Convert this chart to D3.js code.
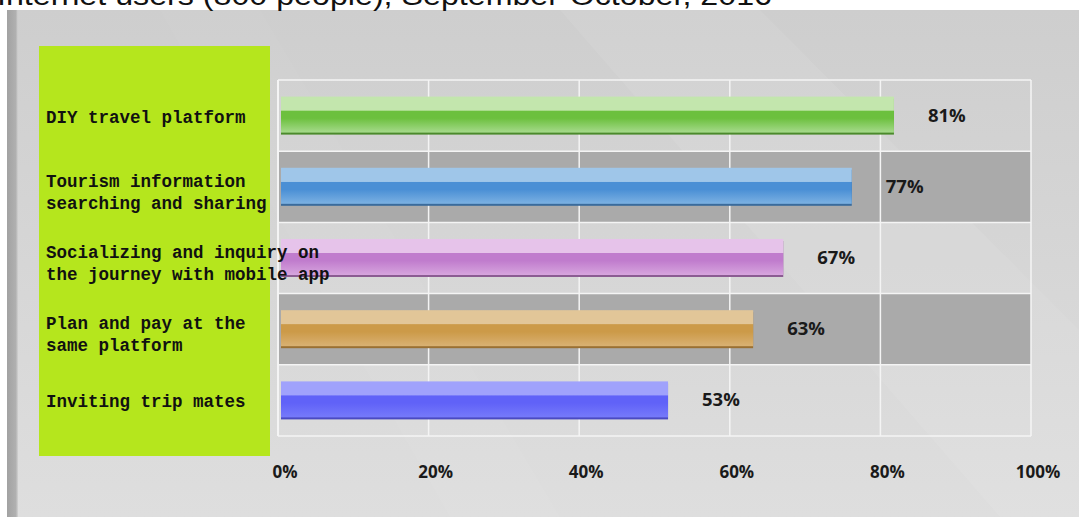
<!DOCTYPE html>
<html>
<head>
<meta charset="utf-8">
<script src="https://cdn.jsdelivr.net/npm/d3@7"></script>
<style>
    body { margin: 0; background: #fff; }
    svg { display: block; }
</style>
</head>
<body>
<svg id="chart" width="1079" height="517"></svg>
<script>
// 数据
let titleText = 'Internet users (800 people), September-October, 2016';
let categories = ['DIY travel platform', 'Tourism information searching and sharing',
    'Socializing and inquiry on the journey with mobile app', 'Plan and pay at the same platform',
    'Inviting trip mates'];
let labelLines = [
    ['DIY travel platform'],
    ['Tourism information', 'searching and sharing'],
    ['Socializing and inquiry on', 'the journey with mobile app'],
    ['Plan and pay at the', 'same platform'],
    ['Inviting trip mates']
];
// 标签上的数值
let values = [81, 77, 67, 63, 53];
// 图上 柱子 实际画出来的长度
let barValues = [81.4, 75.8, 66.7, 62.7, 51.4];
let ticks = [0, 20, 40, 60, 80, 100];

// 颜色: 上半亮, 中间深, 底部 边线
let barColors = [
    {top: '#c3e6ad', mid: '#6cc03e', bot: '#a6da8c', edge: '#4b8a2c'},
    {top: '#9fc6e9', mid: '#4a8fd5', bot: '#7cb1e2', edge: '#3a6b9c'},
    {top: '#e6c3ea', mid: '#c07ccd', bot: '#d7a5de', edge: '#8b5c92'},
    {top: '#e2c698', mid: '#cc9a48', bot: '#d9b173', edge: '#9a7032'},
    {top: '#a0a2fc', mid: '#6062f8', bot: '#767afa', edge: '#4a4ac2'}
];

let svg = d3.select('#chart');
let defs = svg.append('defs');

// 背景
let bgGrad = defs.append('linearGradient').attr('id', 'bg')
    .attr('x1', 0).attr('y1', 0).attr('x2', 0).attr('y2', 1);
bgGrad.append('stop').attr('offset', 0).attr('stop-color', '#cecece');
bgGrad.append('stop').attr('offset', 1).attr('stop-color', '#dedede');

let edgeGrad = defs.append('linearGradient').attr('id', 'edge')
    .attr('x1', 0).attr('y1', 0).attr('x2', 1).attr('y2', 0);
edgeGrad.append('stop').attr('offset', 0).attr('stop-color', '#a2a2a2');
edgeGrad.append('stop').attr('offset', 0.8).attr('stop-color', '#b0b0b0');
edgeGrad.append('stop').attr('offset', 1).attr('stop-color', '#d2d2d2');

svg.append('rect')
    .attr('x', 7).attr('y', 10)
    .attr('width', 1072).attr('height', 507)
    .attr('fill', 'url(#bg)');

// 背景 淡淡的斜条
svg.append('path')
    .attr('d', 'M 560 10 L 760 10 L 1079 330 L 1079 517 L 1000 517 Z')
    .attr('fill', '#ffffff').attr('opacity', 0.07);
svg.append('path')
    .attr('d', 'M 160 10 L 260 10 L 560 517 L 450 517 Z')
    .attr('fill', '#ffffff').attr('opacity', 0.04);

svg.append('rect')
    .attr('x', 7).attr('y', 10)
    .attr('width', 11).attr('height', 507)
    .attr('fill', 'url(#edge)');

// 标题 (上面被截掉, 和原图一样)
svg.append('text')
    .attr('x', -3).attr('y', 5)
    .attr('textLength', 775)
    .attr('lengthAdjust', 'spacingAndGlyphs')
    .style('font-family', 'Liberation Sans, Arial, sans-serif')
    .style('font-size', '27px')
    .attr('fill', '#111')
    .text(titleText);

// 比例尺
let x = d3.scaleLinear().domain([0, 100]).range([278, 1031]);
let y = d3.scaleBand().domain(categories).range([80, 436]).padding(0);

// 行背景
svg.append('g').selectAll('rect')
    .data(categories)
    .enter()
    .append('rect')
    .attr('x', x(0))
    .attr('y', d => y(d))
    .attr('width', x(100) - x(0))
    .attr('height', y.bandwidth())
    .attr('fill', (d, i) => i % 2 === 1 ? '#aaaaaa' : 'none');

// 网格线
let grid = svg.append('g');
grid.selectAll('line.v')
    .data(ticks)
    .enter()
    .append('line')
    .attr('x1', d => x(d)).attr('x2', d => x(d))
    .attr('y1', 80).attr('y2', 436)
    .attr('stroke', '#f4f4f4')
    .attr('stroke-width', d => d === 0 ? 2 : 1.5);
grid.selectAll('line.h')
    .data(categories.concat(['__end']))
    .enter()
    .append('line')
    .attr('x1', x(0)).attr('x2', x(100))
    .attr('y1', (d, i) => 80 + i * y.step())
    .attr('y2', (d, i) => 80 + i * y.step())
    .attr('stroke', '#f4f4f4')
    .attr('stroke-width', 1.5);

// 柱子 渐变
barColors.forEach(function (c, i) {
    let g = defs.append('linearGradient').attr('id', 'bar' + i)
        .attr('x1', 0).attr('y1', 0).attr('x2', 0).attr('y2', 1);
    g.append('stop').attr('offset', 0).attr('stop-color', c.top);
    g.append('stop').attr('offset', 0.38).attr('stop-color', c.top);
    g.append('stop').attr('offset', 0.4).attr('stop-color', c.mid);
    g.append('stop').attr('offset', 0.6).attr('stop-color', c.mid);
    g.append('stop').attr('offset', 1).attr('stop-color', c.bot);
});

let barH = 36;
let bars = svg.append('g');
bars.selectAll('rect.shadow')
    .data(barValues)
    .enter()
    .append('rect')
    .attr('x', x(0) + 3)
    .attr('y', (d, i) => y(categories[i]) + y.bandwidth() / 2 - barH / 2 + 1)
    .attr('width', d => x(d) - x(0))
    .attr('height', barH)
    .attr('fill', (d, i) => barColors[i].edge);
bars.selectAll('rect.bar')
    .data(barValues)
    .enter()
    .append('rect')
    .attr('x', x(0) + 3)
    .attr('y', (d, i) => y(categories[i]) + y.bandwidth() / 2 - barH / 2 - 1)
    .attr('width', d => x(d) - x(0))
    .attr('height', barH)
    .attr('fill', (d, i) => 'url(#bar' + i + ')');

// 数值标签
svg.append('g').selectAll('text')
    .data(values)
    .enter()
    .append('text')
    .attr('x', (d, i) => x(barValues[i]) + 37)
    .attr('y', (d, i) => y(categories[i]) + y.bandwidth() / 2 + 6)
    .style('font-family', 'Open Sans, sans-serif')
    .style('font-weight', 'bold')
    .style('font-size', '18.5px')
    .attr('fill', '#1a1a1a')
    .text(d => d + '%');

// 横轴 标签
svg.append('g').selectAll('text')
    .data(ticks)
    .enter()
    .append('text')
    .attr('x', d => x(d) + 7)
    .attr('y', 478)
    .style('text-anchor', 'middle')
    .style('font-family', 'Open Sans, sans-serif')
    .style('font-weight', 'bold')
    .style('font-size', '17px')
    .attr('fill', '#1a1a1a')
    .text(d => d + '%');

// 左边 绿色 标签框
svg.append('rect')
    .attr('x', 39).attr('y', 46)
    .attr('width', 231).attr('height', 410)
    .attr('fill', '#b5e61d');

let labels = svg.append('g');
labelLines.forEach(function (lines, i) {
    let cy = y(categories[i]) + y.bandwidth() / 2 + (lines.length > 1 ? 6 : 2);
    let top = cy - (lines.length - 1) * 11;
    lines.forEach(function (t, j) {
        labels.append('text')
            .attr('x', 46)
            .attr('y', top + j * 22 + 5)
            .style('font-family', 'Liberation Mono, DejaVu Sans Mono, monospace')
            .style('font-weight', 'bold')
            .style('font-size', '17.5px')
            .attr('fill', '#111')
            .text(t);
    });
});
</script>
</body>
</html>
